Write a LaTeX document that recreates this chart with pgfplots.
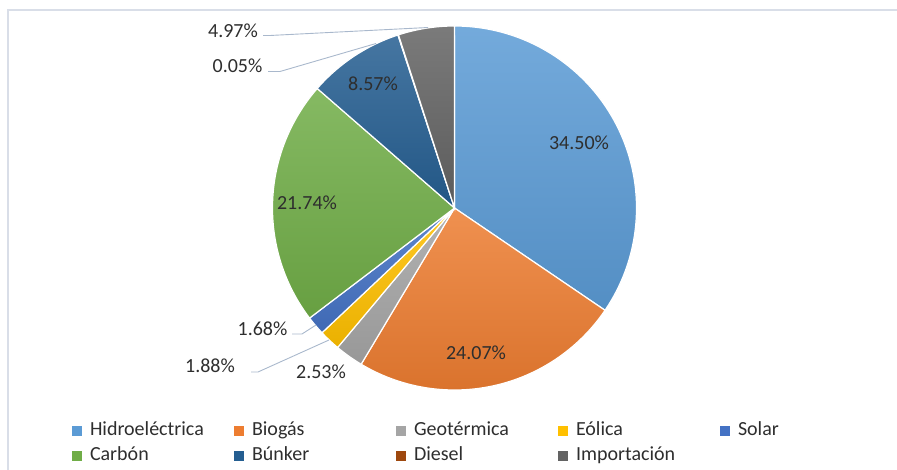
\documentclass[border=0pt]{standalone}
\usepackage{pgfplots}
\pgfplotsset{compat=1.18}
\usepackage{fontspec}
\setmainfont{Carlito}
\definecolor{cHid}{HTML}{5B9BD5}
\definecolor{cBio}{HTML}{ED7D31}
\definecolor{cGeo}{HTML}{A5A5A5}
\definecolor{cEol}{HTML}{FFC000}
\definecolor{cSol}{HTML}{4472C4}
\definecolor{cCar}{HTML}{70AD47}
\definecolor{cBun}{HTML}{255E91}
\definecolor{cDie}{HTML}{9E480E}
\definecolor{cImp}{HTML}{636363}
\definecolor{txt}{HTML}{2E2E2E}
\definecolor{lead}{HTML}{A9B8CC}
\definecolor{frame}{HTML}{D9DEE8}
% start %, end % (cumulative), colour
\newcommand{\slice}[3]{%
  \pgfmathsetmacro{\aS}{90-3.6*#1}%
  \pgfmathsetmacro{\aE}{90-3.6*#2}%
  \addplot[forget plot, draw=white, line width=1.2pt, top color=#3!85!white, bottom color=#3!92!black,
    domain=\aE:\aS, samples=120, variable=\t]
    ({454.5+182*cos(\t)},{262+182*sin(\t)}) -- (axis cs:454.5,262) -- cycle;
  \addlegendimage{fill=#3}%
}
\begin{document}
\begin{tikzpicture}
\path[use as bounding box] (0,0) rectangle (897pt,470pt);
\begin{axis}[
  at={(0,0)}, anchor=south west,
  scale only axis, width=897pt, height=470pt,
  xmin=0, xmax=897, ymin=0, ymax=470,
  hide axis, clip=false, no markers,
  legend columns=5,
  legend image code/.code={%
    \path[#1, draw=none] (0pt,-5pt) rectangle (10pt,5pt);
    \path[draw=none, fill=none] (0pt,0pt) -- (18pt,0pt);},
  legend style={draw=none, fill=none, inner sep=0pt, outer sep=0pt,
    at={(axis cs:72,48)}, anchor=north west,
    column sep=0pt, row sep=7pt,
    font=\fontsize{20}{23}\selectfont, text=txt,
    nodes={inner sep=0pt, anchor=west, text height=14pt, text depth=4pt},
    /tikz/every even column/.append style={text width=144pt}},
]
% frame
\draw[frame, line width=1.3pt] (axis cs:8,0) -- (axis cs:8,460) -- (axis cs:897,460);
\slice{0}{34.50}{cHid}
\slice{34.50}{58.57}{cBio}
\slice{58.57}{61.10}{cGeo}
\slice{61.10}{62.98}{cEol}
\slice{62.98}{64.66}{cSol}
\slice{64.66}{86.40}{cCar}
\slice{86.40}{94.97}{cBun}
\slice{94.97}{95.02}{cDie}
\slice{95.02}{99.99}{cImp}
\legend{Hidroeléctrica, Biogás, Geotérmica, Eólica, Solar, Carbón, Búnker, Diesel, Importación}
% leader lines
\addplot[forget plot, lead, line width=0.9pt] coordinates {(263,434.5) (270,434.5) (428,442.5)};
\addplot[forget plot, lead, line width=0.9pt] coordinates {(268,398.5) (280,398.5) (376,426.5)};
\addplot[forget plot, lead, line width=0.9pt] coordinates {(292,136) (302,136) (316,145)};
\addplot[forget plot, lead, line width=0.9pt] coordinates {(251,98) (258,98) (329,130)};
% labels
\begin{scope}[every node/.style={font=\fontsize{20}{23}\selectfont, text=txt, inner sep=0pt}]
\node at (axis cs:579,327) {34.50\%};
\node at (axis cs:476,117) {24.07\%};
\node at (axis cs:307,267) {21.74\%};
\node at (axis cs:373,386) {8.57\%};
\node at (axis cs:321,98) {2.53\%};
\node at (axis cs:210,104) {1.88\%};
\node at (axis cs:262.5,141) {1.68\%};
\node at (axis cs:237.5,404) {0.05\%};
\node at (axis cs:233,439) {4.97\%};
\end{scope}
\end{axis}
\end{tikzpicture}
\end{document}
